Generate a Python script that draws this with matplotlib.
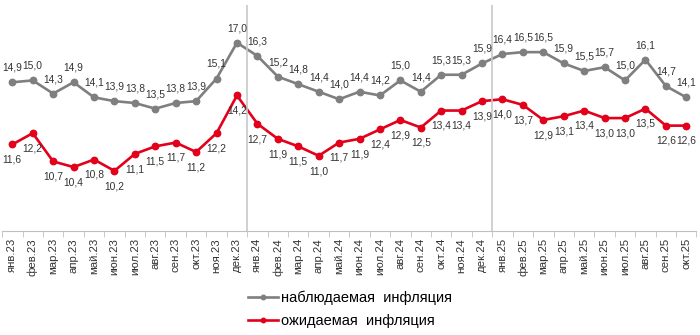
import matplotlib.pyplot as plt
import numpy as np

plt.rcParams['font.family'] = ['Liberation Sans', 'DejaVu Sans']

months = ['янв', 'фев', 'мар', 'апр', 'май', 'июн', 'июл', 'авг', 'сен', 'окт', 'ноя', 'дек']
labels = [f'{m}.{y}' for y in ('23', '24', '25') for m in months][:34]

observed = [14.9, 15.0, 14.3, 14.9, 14.1, 13.9, 13.8, 13.5, 13.8, 13.9, 15.1, 17.0,
            16.3, 15.2, 14.8, 14.4, 14.0, 14.4, 14.2, 15.0, 14.4, 15.3, 15.3, 15.9,
            16.4, 16.5, 16.5, 15.9, 15.5, 15.7, 15.0, 16.1, 14.7, 14.1]
expected = [11.6, 12.2, 10.7, 10.4, 10.8, 10.2, 11.1, 11.5, 11.7, 11.2, 12.2, 14.2,
            12.7, 11.9, 11.5, 11.0, 11.7, 11.9, 12.4, 12.9, 12.5, 13.4, 13.4, 13.9,
            14.0, 13.7, 12.9, 13.1, 13.4, 13.0, 13.0, 13.5, 12.6, 12.6]

gray = '#7f7f7f'
red = '#e2001a'
txt = '#333333'

fig = plt.figure(figsize=(7, 3.35), dpi=100)
ax = fig.add_axes([0.003, 0.31, 0.992, 0.675])

x = np.arange(len(labels))
ax.plot(x, observed, color=gray, lw=1.9, marker='o', ms=4.6, label='наблюдаемая  инфляция')
ax.plot(x, expected, color=red, lw=1.9, marker='o', ms=4.6, label='ожидаемая  инфляция')

# data labels: observed above, expected below
for xi, v in zip(x, observed):
    ax.annotate(f'{v:.1f}'.replace('.', ','), (xi, v), xytext=(0, 10.5), textcoords='offset points',
                ha='center', va='center', fontsize=7.4, color=txt)
for xi, v in zip(x, expected):
    ax.annotate(f'{v:.1f}'.replace('.', ','), (xi, v), xytext=(0, -11), textcoords='offset points',
                ha='center', va='center', fontsize=7.4, color=txt)

# year separators
for b in (11.5, 23.5):
    ax.axvline(b, color='#c8c8c8', lw=1.2)

ax.set_xlim(-0.5, len(labels) - 0.5)
ax.set_ylim(7, 19)
ax.set_yticks([])
ax.set_xticks(x)
ax.set_xticklabels(labels, rotation=90, fontsize=8.2, color=txt)
ax.tick_params(axis='x', which='major', length=0, pad=5)
ax.set_xticks(np.arange(-0.5, len(labels), 1), minor=True)
ax.tick_params(axis='x', which='minor', length=4, color='#bfbfbf', direction='out')
for s in ('top', 'left', 'right'):
    ax.spines[s].set_visible(False)
ax.spines['bottom'].set_color('#bfbfbf')

fig.legend(loc='center', bbox_to_anchor=(0.5, 0.076), frameon=False, fontsize=10.5,
           handlelength=2.0, handletextpad=0.2, labelspacing=0.62, borderaxespad=0,
           markerscale=0.7)

fig.savefig('out.png', dpi=100)
